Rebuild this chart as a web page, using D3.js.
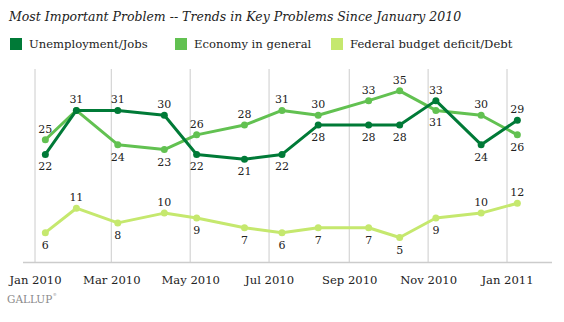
<!DOCTYPE html>
<html><head><meta charset="utf-8">
<script src="https://cdn.jsdelivr.net/npm/d3@7"></script>
<style>
html,body{margin:0;padding:0;background:#fff;}
svg{display:block;}
text{font-family:"DejaVu Serif",Georgia,serif;}
</style></head>
<body>
<svg id="c" width="564" height="322"></svg>
<script>
const dates = ["2010-01-09","2010-02-02","2010-03-06","2010-04-11","2010-05-06","2010-06-12","2010-07-11","2010-08-08","2010-09-16","2010-10-10","2010-11-07","2010-12-12","2011-01-09"];
const unemployment = [22,31,31,30,22,21,22,28,28,28,33,24,29];
const economy = [25,31,24,23,26,28,31,30,33,35,31,30,26];
const deficit = [6,11,8,10,9,7,6,7,7,5,9,10,12];
const seriesNames = ["Unemployment/Jobs","Economy in general","Federal budget deficit/Debt"];
const tickLabels = ["Jan 2010","Mar 2010","May 2010","Jul 2010","Sep 2010","Nov 2010","Jan 2011"];
const tickDates = ["2010-01-01","2010-03-01","2010-05-01","2010-07-01","2010-09-01","2010-11-01","2011-01-01"];
// label placement: a = above, b = below, "" = none
const unempPos = ["b","a","a","a","b","b","b","b","b","b","a","b","a"];
const econPos  = ["a","","b","b","a","a","a","a","a","a","b","a","b"];
const defPos   = ["b","a","b","a","b","b","b","b","b","b","b","a","a"];
const colors = ["#007a37","#62c151","#c5e86e"];

const parse = d3.utcParse("%Y-%m-%d");
const svg = d3.select("#c");
const x = d3.scaleUtc().domain([parse("2010-01-01"), parse("2011-01-01")]).range([35, 507]);
const y = d3.scaleLinear().domain([0, 40]).range([262, 66.4]);

// title
svg.append("text").attr("x", 9).attr("y", 20.5).attr("font-style","italic").attr("font-size", 12.5).attr("fill","#222")
  .text("Most Important Problem -- Trends in Key Problems Since January 2010");

// legend
const legX = [10, 175, 331];
seriesNames.forEach((n,i)=>{
  svg.append("rect").attr("x", legX[i]).attr("y", 38).attr("width", 12).attr("height", 12).attr("fill", colors[i]);
  svg.append("text").attr("x", legX[i]+19).attr("y", 48).attr("font-size", 11.6).attr("fill","#222").text(n);
});

// grid
const ticks = tickDates.map(parse);
svg.append("g").selectAll("line").data(ticks).join("line")
  .attr("x1", d=>x(d)).attr("x2", d=>x(d)).attr("y1", 69).attr("y2", 262)
  .attr("stroke", "#cccccc").attr("stroke-width", 1);
// axis
const axis = d3.axisBottom(x).tickValues(ticks).tickSize(0).tickPadding(14)
  .tickFormat((d,i)=>tickLabels[i]);
const ag = svg.append("g").attr("transform","translate(0,262)").call(axis);
ag.select(".domain").remove();
svg.append("line").attr("x1", 23).attr("x2", 552).attr("y1", 262.5).attr("y2", 262.5).attr("stroke","#cccccc").attr("stroke-width", 1.5);
ag.selectAll("text").attr("font-size", 11.6).attr("fill","#222").attr("font-family", '"DejaVu Serif",Georgia,serif');

const series = [
  {vals: unemployment, pos: unempPos, color: colors[0]},
  {vals: economy, pos: econPos, color: colors[1]},
  {vals: deficit, pos: defPos, color: colors[2]}
];
const drawOrder = [2,1,0];
const line = d3.line().x(d=>x(d.date)).y(d=>y(d.v));
drawOrder.forEach(si=>{
  const s = series[si];
  const pts = s.vals.map((v,i)=>({date: parse(dates[i]), v, pos: s.pos[i]}));
  svg.append("path").datum(pts).attr("d", line).attr("fill","none").attr("stroke", s.color)
    .attr("stroke-width", 3).attr("stroke-linejoin","round");
  svg.append("g").selectAll("circle").data(pts).join("circle")
    .attr("cx", d=>x(d.date)).attr("cy", d=>y(d.v)).attr("r", 3.5).attr("fill", s.color);
  svg.append("g").selectAll("text").data(pts.filter(d=>d.pos)).join("text")
    .attr("x", d=>x(d.date)).attr("y", d=> d.pos==="a" ? y(d.v)-7 : y(d.v)+16)
    .attr("text-anchor","middle").attr("font-size", 11).attr("fill","#222").text(d=>d.v);
});

// logo
const logo = svg.append("text").attr("x", 7).attr("y", 303).attr("font-size", 10.5).attr("fill","#8a8a8a").text("GALLUP");
const lw = logo.node().getComputedTextLength();
svg.append("text").attr("x", 7 + lw + 0.5).attr("y", 296).attr("font-size", 4).attr("fill","#8a8a8a").text("®");
</script>
</body></html>
